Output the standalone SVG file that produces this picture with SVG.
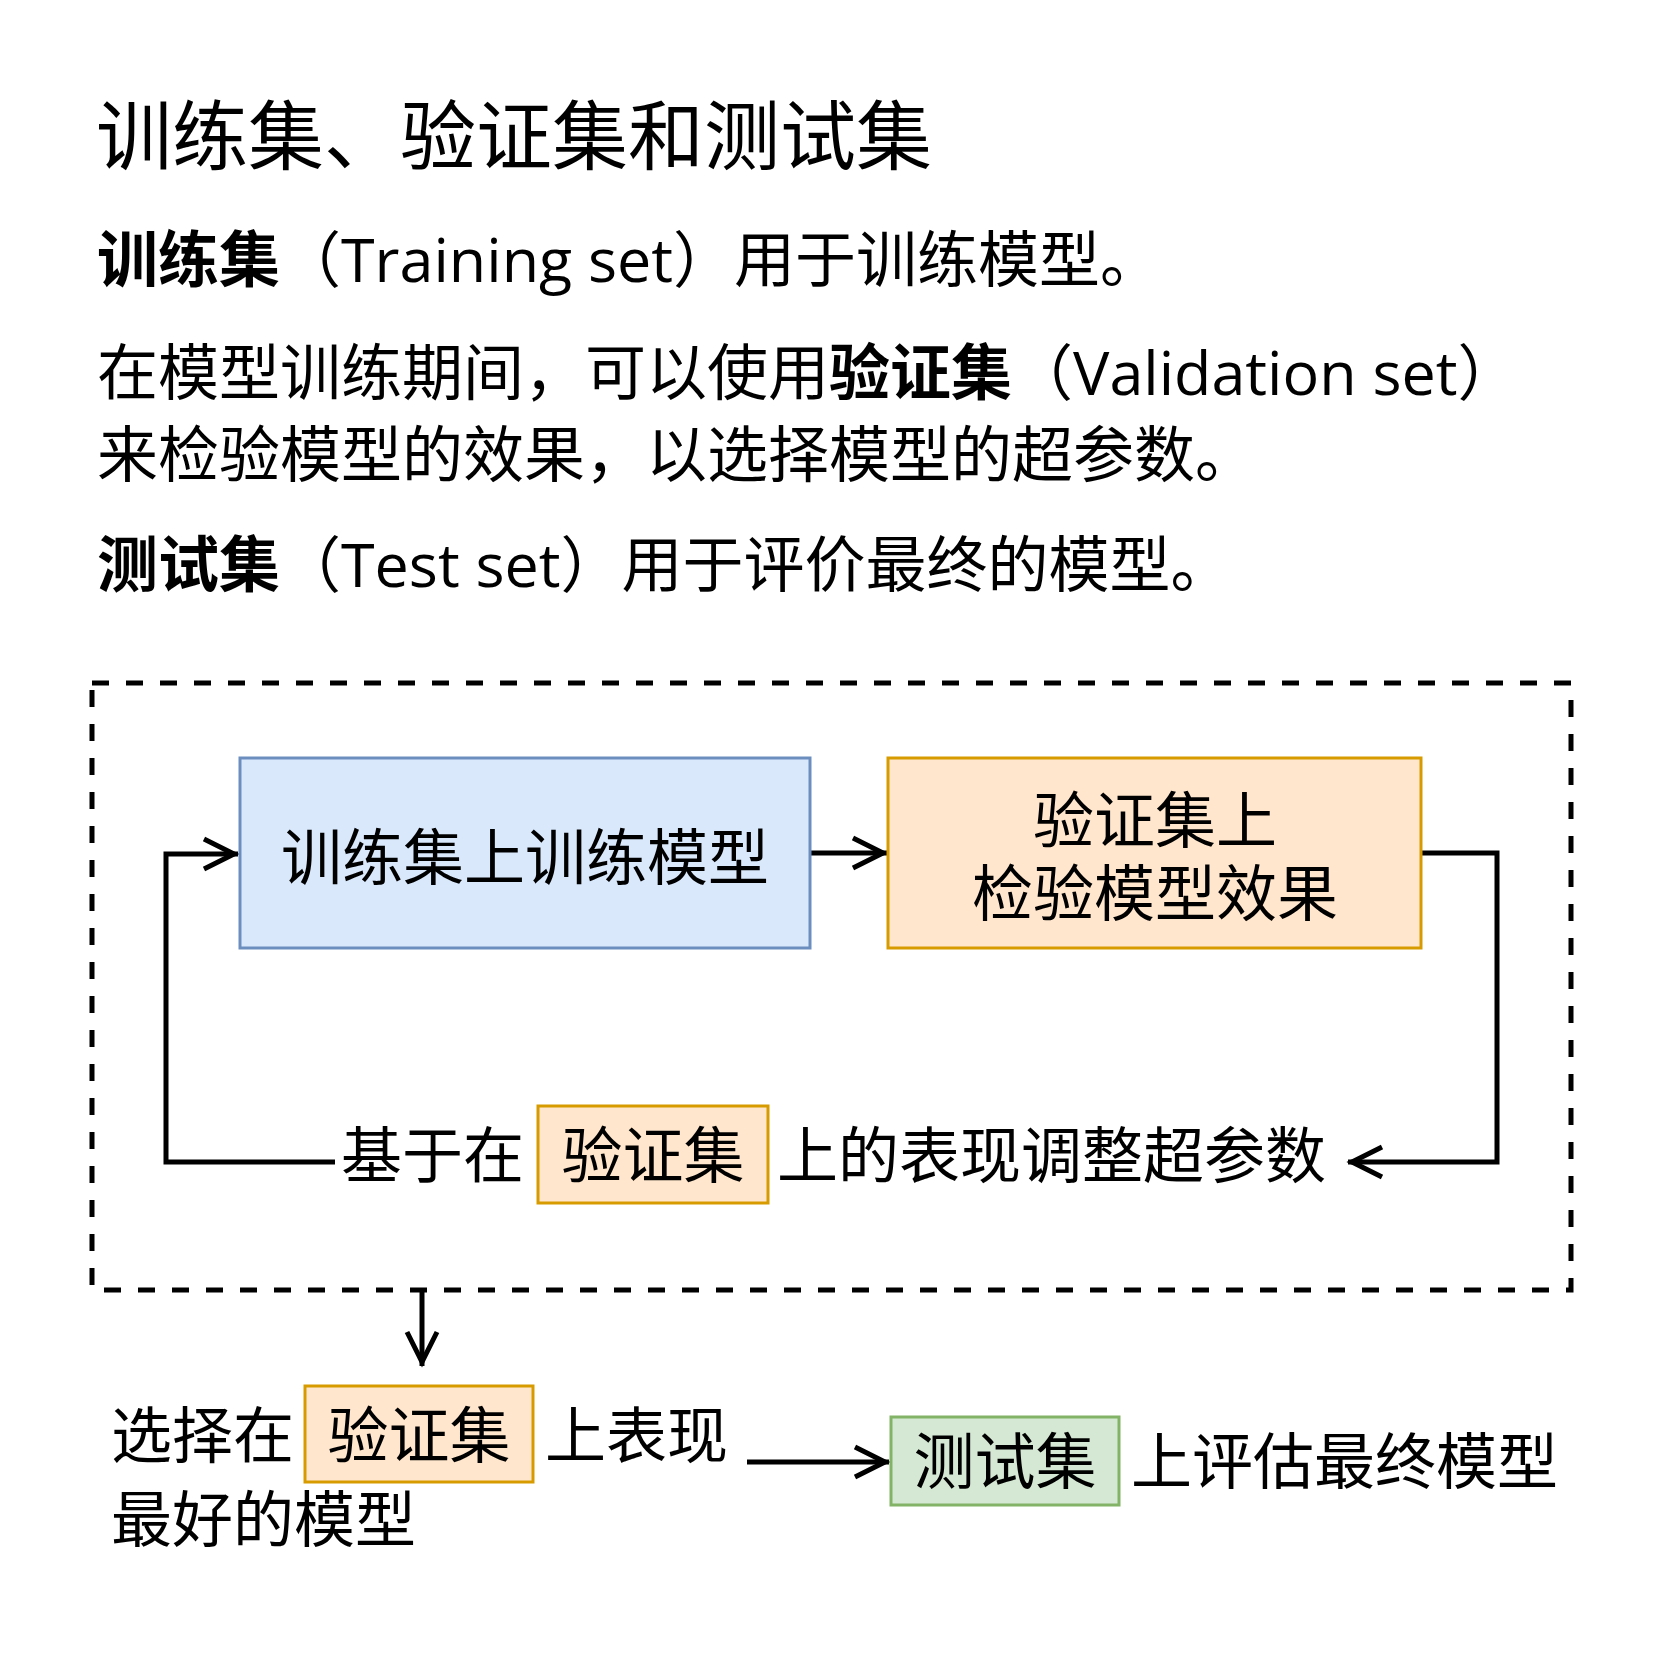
<svg xmlns="http://www.w3.org/2000/svg" width="1658" height="1654" viewBox="0 0 1658 1654">
<defs>
<style>
text{font-family:"Open Sans","Noto Sans CJK SC",sans-serif;fill:#000;}
.t{font-size:76px;}
.p{font-size:61px;}
.c{text-anchor:middle;}
.b{font-weight:bold;}
.blue{fill:#dae8fc;stroke:#6c8ebf;stroke-width:3;}
.orange{fill:#ffe6cc;stroke:#d79b00;stroke-width:3;}
.green{fill:#d5e8d4;stroke:#82b366;stroke-width:3;}
.edge{fill:none;stroke:#000;stroke-width:5;}
.dash{fill:none;stroke:#000;stroke-width:5;stroke-dasharray:17 17;}
</style>
<marker id="open" viewBox="-36 -19 42 38" refX="4" refY="0" markerWidth="42" markerHeight="38" markerUnits="userSpaceOnUse" orient="auto">
<path d="M-30,-15 L0,0 L-30,15" fill="none" stroke="#000" stroke-width="5"/>
</marker>
</defs>
<rect width="1658" height="1654" fill="#fff"/>

<g id="intro">
<text class="t" x="96" y="164">训练集、验证集和测试集</text>
<text class="p" x="97" y="282"><tspan class="b">训练集</tspan>（Training set）用于训练模型。</text>
<text class="p" x="97" y="395">在模型训练期间，可以使用<tspan class="b">验证集</tspan>（Validation set）</text>
<text class="p" x="97" y="477">来检验模型的效果，以选择模型的超参数。</text>
<text class="p" x="97" y="587"><tspan class="b">测试集</tspan>（Test set）用于评价最终的模型。</text>
</g>

<g id="loop-frame">
<rect class="dash" x="92" y="683" width="1479" height="607"/>
</g>

<g id="connectors">
<path class="edge" d="M810,853 H887" marker-end="url(#open)"/>
<path class="edge" d="M1421,853 H1497 V1162 H1348" marker-end="url(#open)"/>
<path class="edge" d="M335,1162 H166 V854 H238" marker-end="url(#open)"/>
<path class="edge" d="M422,1290 V1366" marker-end="url(#open)"/>
<path class="edge" d="M747,1462 H889" marker-end="url(#open)"/>
</g>

<g id="train">
<rect class="blue" x="240" y="758" width="570" height="190"/>
<text class="p c" x="525" y="880">训练集上训练模型</text>
</g>

<g id="validate">
<rect class="orange" x="888" y="758" width="533" height="190"/>
<text class="p c" x="1155" y="843">验证集上</text>
<text class="p c" x="1155" y="916">检验模型效果</text>
</g>

<g id="tune">
<text class="p" x="341" y="1178">基于在</text>
<rect class="orange" x="538" y="1106" width="230" height="97"/>
<text class="p c" x="653" y="1178">验证集</text>
<text class="p" x="777" y="1178">上的表现调整超参数</text>
</g>

<g id="select">
<text class="p" x="111" y="1458">选择在</text>
<rect class="orange" x="305" y="1386" width="228" height="96"/>
<text class="p c" x="419" y="1458">验证集</text>
<text class="p" x="545" y="1458">上表现</text>
<text class="p" x="111" y="1542">最好的模型</text>
</g>

<g id="test">
<rect class="green" x="891" y="1417" width="228" height="88"/>
<text class="p c" x="1005" y="1484">测试集</text>
<text class="p" x="1131" y="1484">上评估最终模型</text>
</g>
</svg>
